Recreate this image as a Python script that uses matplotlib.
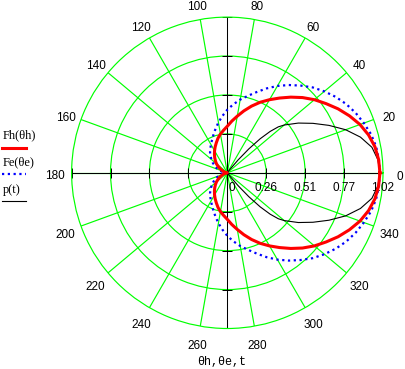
import numpy as np
import matplotlib
matplotlib.use("Agg")
import matplotlib.pyplot as plt
from matplotlib.lines import Line2D
from matplotlib.transforms import ScaledTranslation

# ---- data (upper half, curves are symmetric) ----
half_angles = list(range(0, 181, 5))
fh_half = [1.0, 0.995, 0.982, 0.958, 0.925, 0.883, 0.838, 0.79, 0.745, 0.697,
           0.647, 0.598, 0.553, 0.51, 0.465, 0.42, 0.377, 0.34, 0.305, 0.28,
           0.258, 0.235, 0.21, 0.188, 0.167, 0.147, 0.128, 0.11, 0.093, 0.074,
           0.056, 0.04, 0.026, 0.015, 0.007, 0.002, 0.0]
fe_half = [1.0, 0.997, 0.99, 0.975, 0.952, 0.928, 0.9, 0.867, 0.83, 0.791,
           0.746, 0.702, 0.657, 0.61, 0.563, 0.522, 0.487, 0.45, 0.413, 0.373,
           0.335, 0.298, 0.265, 0.237, 0.214, 0.194, 0.176, 0.156, 0.135, 0.117,
           0.098, 0.08, 0.062, 0.045, 0.028, 0.012, 0.0]
p_angles_half = [0, 5, 10, 15, 20, 25, 30, 35, 40, 42, 44, 46, 48, 50, 52, 54]
p_half = [1.0, 0.99, 0.962, 0.903, 0.825, 0.735, 0.648, 0.568, 0.487, 0.45,
          0.39, 0.31, 0.21, 0.11, 0.03, 0.0]

r_ticks = [0, 0.255, 0.51, 0.765, 1.02]
r_tick_labels = ["0", "0.26", "0.51", "0.77", "1.02"]
angle_ticks = list(range(0, 360, 20))
angle_labels = [str(a) for a in angle_ticks]
legend_names = ["Fh(\u03b8h)", "Fe(\u03b8e)", "p(t)"]
axis_label = "\u03b8h,\u03b8e,t"

# ---- build full curves (mirror of the upper half) ----
full_angles = half_angles + [360 - a for a in half_angles[-2::-1]]
fh = fh_half + fh_half[-2::-1]
fe = fe_half + fe_half[-2::-1]
p_angles = [-a for a in p_angles_half[::-1]] + p_angles_half[1:]
p = p_half[::-1] + p_half[1:]

W, H = 406, 369
fig = plt.figure(figsize=(W / 100, H / 100), dpi=100)
cx, cy, R = 227.3, 172.8, 155.7
ax = fig.add_axes([(cx - R) / W, (H - cy - R) / H, 2 * R / W, 2 * R / H], projection="polar")
ax.set_theta_zero_location("E")
ax.set_ylim(0, 1.02)
ax.set_xticks(np.deg2rad(angle_ticks))
ax.set_xticklabels([])
ax.set_yticks(r_ticks[1:4])
ax.set_yticklabels([])
ax.tick_params(length=0)
ax.set_axisbelow(True)
ax.grid(True, color="#00ff00", lw=0.85)
ax.spines["polar"].set_color("#00ff00")
ax.spines["polar"].set_linewidth(0.85)
ax.set_facecolor("white")

# black axes
for a in [0, 90, 180, 270]:
    ax.plot([np.deg2rad(a)] * 2, [0, 1.02], color="k", lw=0.75, zorder=1.5)
for a in [0, 180]:
    ax.plot([np.deg2rad(a)] * 4, r_ticks[1:], ls="none", marker="|", ms=6.5, mew=0.7, color="k", zorder=1.6)
for a in [90, 270]:
    ax.plot([np.deg2rad(a)] * 4, r_ticks[1:], ls="none", marker="_", ms=6.5, mew=0.7, color="k", zorder=1.6)

# curves
ax.plot(np.deg2rad(p_angles), p, color="k", lw=0.8, zorder=3)
ax.plot(np.deg2rad(full_angles), fe, color="#0000ff", lw=1.6, ls=(0, (1, 1.6)), zorder=4)
ax.plot(np.deg2rad(full_angles), fh, color="#ff0000", lw=2.2, zorder=5)

num_font = dict(family="Liberation Sans", size=8.5)
serif_font = dict(family="Liberation Serif", size=9)
mono_font = dict(family="Liberation Mono", size=8.5)

# radial tick labels
for i, (r, lab) in enumerate(zip(r_ticks, r_tick_labels)):
    dx = 5 / 100 if i == 0 else 0
    tr = ax.transData + ScaledTranslation(dx, -15.2 / 100, fig.dpi_scale_trans)
    ax.text(0, r, lab, ha="center", va="center", transform=tr, **num_font)

# angle labels
tr = ax.transData + ScaledTranslation(0, -3.7 / 100, fig.dpi_scale_trans)
for a, lab in zip(angle_ticks, angle_labels):
    ax.text(np.deg2rad(a), 1.127, lab, ha="center", va="center", transform=tr, clip_on=False, **num_font)

# axis label
fig.text(221.7 / W, 1 - 362 / H, axis_label, ha="center", va="center", **mono_font)

# legend
styles = [dict(color="#ff0000", lw=2.2), dict(color="#0000ff", lw=1.6, ls=(0, (1, 1.6))), dict(color="k", lw=0.8)]
text_y = [135, 162, 190]
line_y = [148, 174, 201]
for name, st, ty, ly in zip(legend_names, styles, text_y, line_y):
    fig.text(3 / W, 1 - ty / H, name, ha="left", va="center", **serif_font)
    fig.add_artist(Line2D([2 / W, 26 / W], [1 - ly / H] * 2, transform=fig.transFigure, **st))

fig.savefig("out.png", dpi=100)
